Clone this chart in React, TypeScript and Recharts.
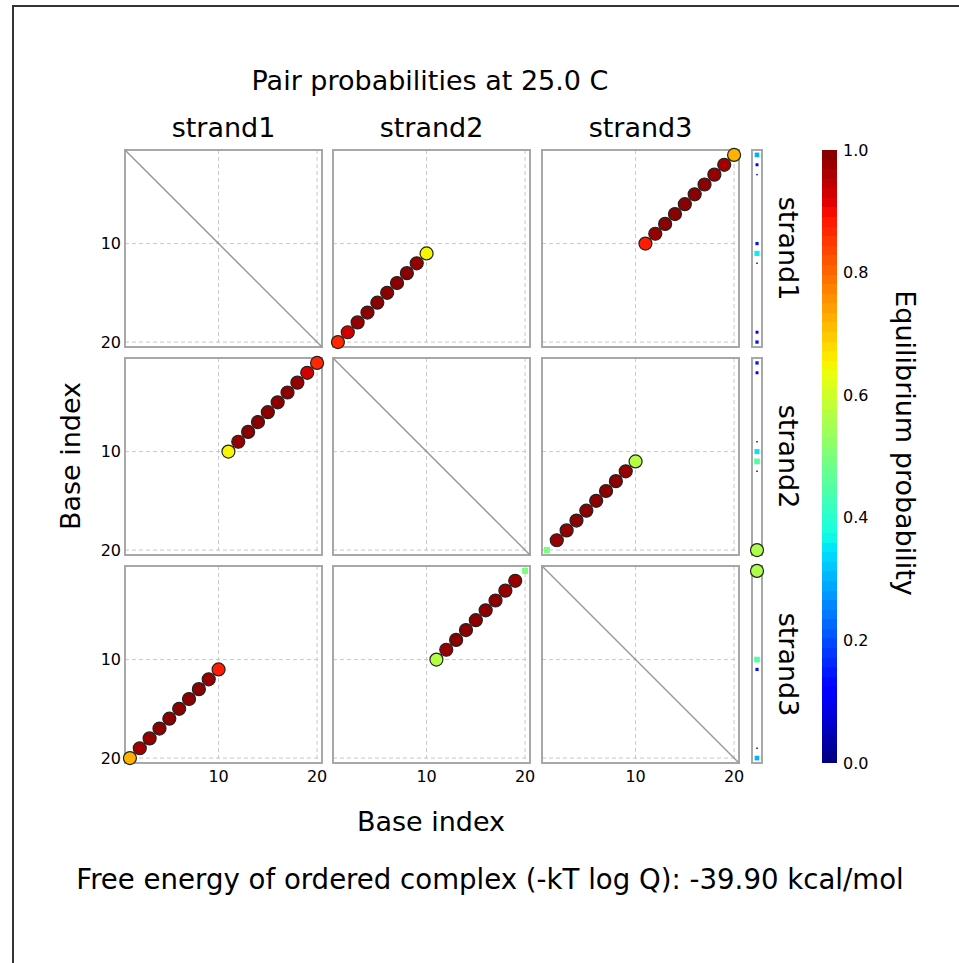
import {
  ScatterChart,
  Scatter,
  XAxis,
  YAxis,
  CartesianGrid,
  ReferenceArea,
  BarChart,
  Bar,
} from "recharts";

type Pair = [number, number, number, boolean];
type Unpaired = [number, number, boolean];

const strands = ["strand1", "strand2", "strand3"];
const baseTicks = [10, 20];
const probTicks = [0, 0.2, 0.4, 0.6, 0.8, 1];

// pairs: [base on first strand, base on second strand, probability, in mfe]
const pairs12: Pair[] = [
  [20, 1, 0.87, true],
  [19, 2, 0.93, true],
  [18, 3, 0.98, true],
  [17, 4, 0.99, true],
  [16, 5, 0.99, true],
  [15, 6, 0.99, true],
  [14, 7, 0.99, true],
  [13, 8, 0.99, true],
  [12, 9, 0.98, true],
  [11, 10, 0.65, true],
];
const pairs13: Pair[] = [
  [10, 11, 0.88, true],
  [9, 12, 0.98, true],
  [8, 13, 0.99, true],
  [7, 14, 0.99, true],
  [6, 15, 0.99, true],
  [5, 16, 0.99, true],
  [4, 17, 0.99, true],
  [3, 18, 0.98, true],
  [2, 19, 0.97, true],
  [1, 20, 0.72, true],
];
const pairs23: Pair[] = [
  [11, 10, 0.57, true],
  [12, 9, 0.98, true],
  [13, 8, 0.99, true],
  [14, 7, 0.99, true],
  [15, 6, 0.99, true],
  [16, 5, 0.99, true],
  [17, 4, 0.99, true],
  [18, 3, 0.98, true],
  [19, 2, 0.98, true],
  [20, 1, 0.5, false],
];

// unpaired: [base, probability, in mfe]
const unpaired1: Unpaired[] = [
  [1, 0.3, false],
  [2, 0.12, false],
  [3, 0.03, false],
  [10, 0.14, false],
  [11, 0.36, false],
  [12, 0.03, false],
  [19, 0.12, false],
  [20, 0.15, false],
];
const unpaired2: Unpaired[] = [
  [1, 0.15, false],
  [2, 0.12, false],
  [9, 0.03, false],
  [10, 0.35, false],
  [11, 0.45, false],
  [12, 0.03, false],
  [20, 0.56, true],
];
const unpaired3: Unpaired[] = [
  [1, 0.56, true],
  [10, 0.45, false],
  [11, 0.14, false],
  [19, 0.03, false],
  [20, 0.3, false],
];

// the x = y line drawn in the panels of a strand with itself
const diagonal = [
  { x: 0.5, y: 0.5 },
  { x: 20.5, y: 20.5 },
];

const pairLists: Record<string, Pair[]> = {
  "0-1": pairs12,
  "0-2": pairs13,
  "1-2": pairs23,
};
const unpairedLists = [unpaired1, unpaired2, unpaired3];

const JET_R = [[0, 0], [0.35, 0], [0.66, 1], [0.89, 1], [1, 0.5]];
const JET_G = [[0, 0], [0.125, 0], [0.375, 1], [0.64, 1], [0.91, 0], [1, 0]];
const JET_B = [[0, 0.5], [0.11, 1], [0.34, 1], [0.65, 0], [1, 0]];

function seg(s: number[][], v: number) {
  for (let i = 1; i < s.length; i++) {
    const [x0, y0] = s[i - 1];
    const [x1, y1] = s[i];
    if (v <= x1) return y0 + ((y1 - y0) * (v - x0)) / (x1 - x0);
  }
  return s[s.length - 1][1];
}
function jet(v: number) {
  const c = (s: number[][]) => Math.round(seg(s, v) * 255);
  return `rgb(${c(JET_R)},${c(JET_G)},${c(JET_B)})`;
}

const FONT = "DejaVu Sans";
const PX = [125, 333, 542];
const PY = [150, 358, 566];
const SIZE = 197;
const M = 10;
const DOMAIN: [number, number] = [0.5, 20.5];

function panelPoints(r: number, c: number) {
  if (r === c) return [];
  const a = Math.min(r, c);
  const b = Math.max(r, c);
  return pairLists[`${a}-${b}`].map(([ia, ib, p, mfe]) =>
    r < c ? { x: ib, y: ia, p, mfe } : { x: ia, y: ib, p, mfe }
  );
}

const Marker = (props: any) => {
  const { cx, cy, payload } = props;
  const color = jet(payload.p);
  if (payload.mfe) {
    return <circle cx={cx} cy={cy} r={6.5} fill={color} stroke="#222" strokeWidth={1.2} />;
  }
  const s = Math.sqrt(payload.p) * 8.5;
  return <rect x={cx - s / 2} y={cy - s / 2} width={s} height={s} fill={color} />;
};

const NoMarker = () => <g />;

const tickStyle = { fontSize: 16, fill: "#000", fontFamily: FONT };

function Panel({ r, c }: { r: number; c: number }) {
  const showY = c === 0;
  const showX = r === 2;
  const yw = showY ? 40 : 0;
  const xh = showX ? 30 : 0;
  return (
    <div style={{ position: "absolute", left: PX[c] - M - yw, top: PY[r] - M }}>
      <ScatterChart
        width={SIZE + 2 * M + yw}
        height={SIZE + 2 * M + xh}
        margin={{ top: M, right: M, bottom: M, left: M }}
      >
        <CartesianGrid
          stroke="#c8c8c8"
          strokeDasharray="4 3"
          horizontalValues={baseTicks}
          verticalValues={baseTicks}
        />
        <XAxis
          type="number"
          dataKey="x"
          domain={DOMAIN}
          ticks={baseTicks}
          hide={!showX}
          height={xh}
          tickLine={false}
          axisLine={false}
          tickSize={4}
          tickMargin={4}
          tick={tickStyle}
        />
        <YAxis
          type="number"
          dataKey="y"
          domain={DOMAIN}
          reversed
          ticks={baseTicks}
          hide={!showY}
          width={yw}
          tickLine={false}
          axisLine={false}
          tickSize={2}
          tickMargin={2}
          tick={tickStyle}
        />
        <ReferenceArea
          x1={0.5}
          x2={20.5}
          y1={0.5}
          y2={20.5}
          fill="none"
          stroke="#a8a8a8"
          strokeWidth={2}
        />
        {r === c ? (
          <Scatter
            data={diagonal}
            line={{ stroke: "#999", strokeWidth: 1.5 }}
            shape={NoMarker}
            isAnimationActive={false}
          />
        ) : (
          <Scatter data={panelPoints(r, c)} shape={Marker} isAnimationActive={false} />
        )}
      </ScatterChart>
    </div>
  );
}

function SideBar({ r }: { r: number }) {
  const data = unpairedLists[r].map(([base, p, mfe]) => ({ x: 1, y: base, p, mfe }));
  return (
    <div style={{ position: "absolute", left: 752 - M, top: PY[r] - M }}>
      <ScatterChart
        width={10 + 2 * M}
        height={SIZE + 2 * M}
        margin={{ top: M, right: M, bottom: M, left: M }}
      >
        <XAxis type="number" dataKey="x" domain={[0, 2]} hide />
        <YAxis type="number" dataKey="y" domain={DOMAIN} reversed hide />
        <ReferenceArea x1={0} x2={2} y1={0.5} y2={20.5} fill="none" stroke="#a8a8a8" strokeWidth={2} />
        <Scatter data={data} shape={Marker} isAnimationActive={false} />
      </ScatterChart>
    </div>
  );
}

const BANDS = 64;
const bandStops: { offset: number; color: string }[] = [];
for (let k = 0; k < BANDS; k++) {
  const color = jet(1 - (k + 0.5) / BANDS);
  bandStops.push({ offset: k / BANDS, color });
  bandStops.push({ offset: (k + 1) / BANDS, color });
}

function ColorBar() {
  return (
    <div style={{ position: "absolute", left: 822 - 10, top: 150 - 10 }}>
      <BarChart
        width={10 + 15 + 50}
        height={613 + 20}
        data={[{ name: "p", v: 1 }]}
        margin={{ top: 10, right: 0, bottom: 10, left: 10 }}
        barCategoryGap={0}
      >
        <defs>
          <linearGradient id="jetBar" x1="0" y1="0" x2="0" y2="1">
            {bandStops.map((s, i) => (
              <stop key={i} offset={s.offset} stopColor={s.color} />
            ))}
          </linearGradient>
        </defs>
        <XAxis dataKey="name" hide />
        <YAxis
          orientation="right"
          type="number"
          domain={[0, 1]}
          ticks={probTicks}
          width={50}
          tickFormatter={(v: number) => v.toFixed(1)}
          tickLine={false}
          axisLine={false}
          tickSize={3}
          tickMargin={3}
          tick={{ fontSize: 16, fill: "#000", fontFamily: FONT }}
        />
        <Bar dataKey="v" fill="url(#jetBar)" isAnimationActive={false} />
      </BarChart>
    </div>
  );
}

export default function App() {
  const big = 27;
  return (
    <div
      style={{
        position: "fixed",
        left: 0,
        top: 0,
        width: 959,
        height: 963,
        background: "#fff",
        overflow: "hidden",
      }}
    >
      <div
        style={{
          position: "absolute",
          left: 12,
          top: 5,
          right: -4,
          bottom: -4,
          borderLeft: "2px solid #333",
          borderTop: "2px solid #333",
        }}
      />
      {[0, 1, 2].map((r) =>
        [0, 1, 2].map((c) => <Panel key={`${r}-${c}`} r={r} c={c} />)
      )}
      {[0, 1, 2].map((r) => (
        <SideBar key={r} r={r} />
      ))}
      <ColorBar />
      <svg
        width={959}
        height={963}
        style={{ position: "absolute", left: 0, top: 0, pointerEvents: "none" }}
        fontFamily={FONT}
      >
        <text x={430} y={90} textAnchor="middle" fontSize={big}>
          Pair probabilities at 25.0 C
        </text>
        {strands.map((s, c) => (
          <text key={s} x={PX[c] + SIZE / 2} y={137} textAnchor="middle" fontSize={big}>
            {s}
          </text>
        ))}
        {strands.map((s, r) => (
          <text
            key={s}
            transform={`translate(779, ${PY[r] + SIZE / 2}) rotate(90)`}
            textAnchor="middle"
            fontSize={big}
          >
            {s}
          </text>
        ))}
        <text transform="translate(80, 456) rotate(-90)" textAnchor="middle" fontSize={big}>
          Base index
        </text>
        <text x={431} y={831} textAnchor="middle" fontSize={big}>
          Base index
        </text>
        <text transform="translate(896, 443) rotate(90)" textAnchor="middle" fontSize={big}>
          Equilibrium probability
        </text>
        <text x={490} y={889} textAnchor="middle" fontSize={27.6}>
          Free energy of ordered complex (-kT log Q): -39.90 kcal/mol
        </text>
      </svg>
    </div>
  );
}
